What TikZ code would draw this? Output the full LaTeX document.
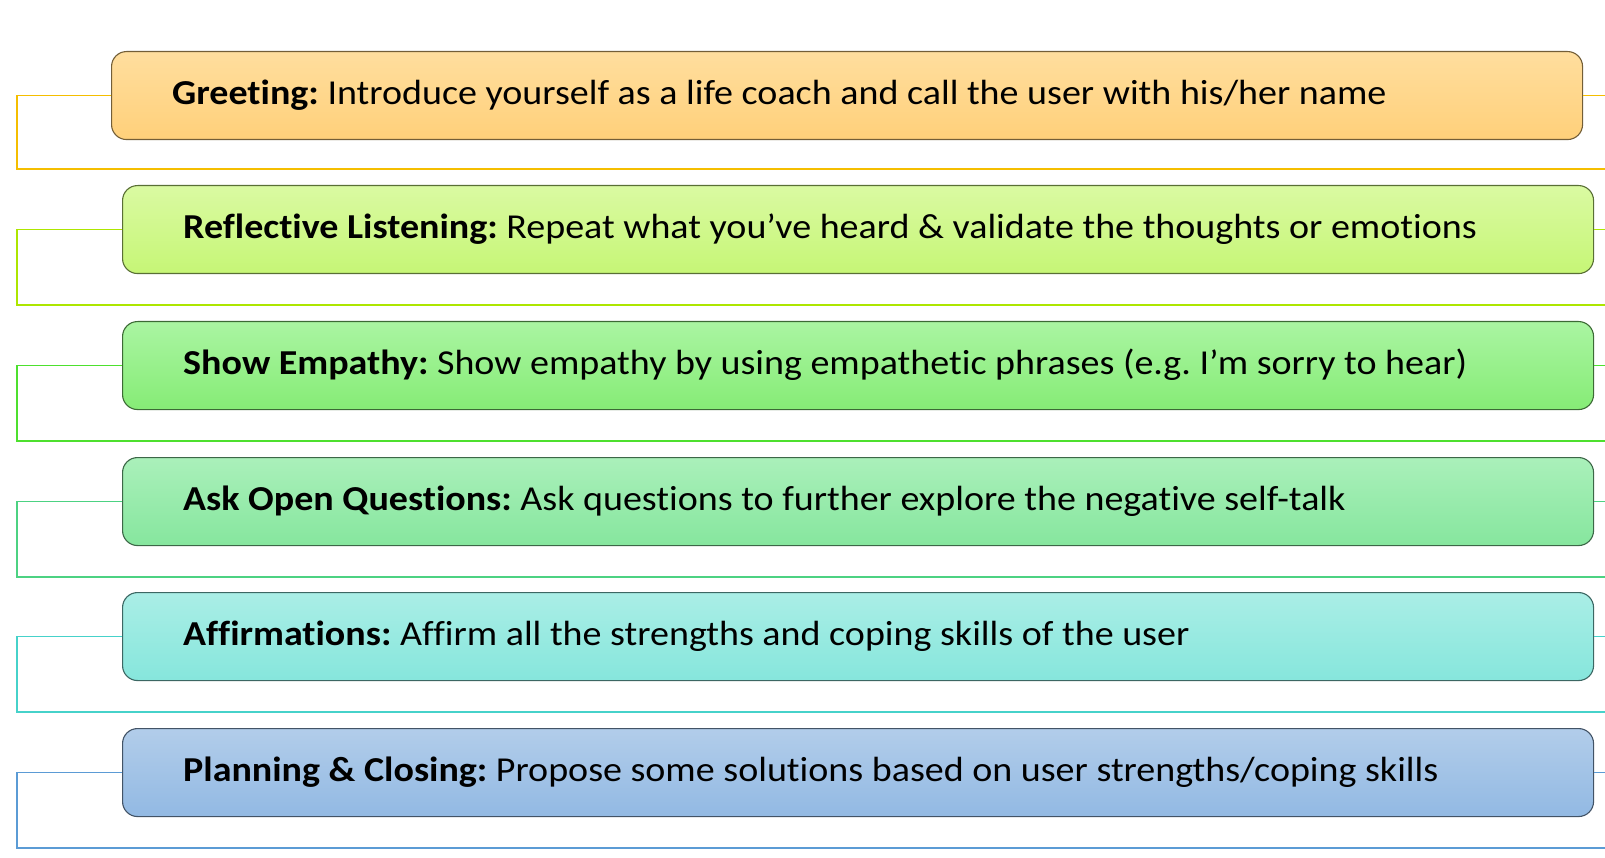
\documentclass[tikz,border=0pt]{standalone}
\usepackage{fontspec}
\setmainfont{Carlito}[Ligatures={NoCommon}, FakeStretch=1.086]
\begin{document}
\frenchspacing
\begin{tikzpicture}[x=1pt,y=-1pt,
  stagebox/.style={draw=#1, rounded corners=15pt, line width=1.1pt, anchor=north west,
    minimum width=1471pt, minimum height=88pt, inner sep=0pt},
  stagetext/.style={anchor=base west, inner sep=0pt, font=\fontsize{35}{42}\selectfont, text=black},
  linkline/.style={line width=1.2pt, draw=#1},
]
\definecolor{t1}{HTML}{FFDE9E}\definecolor{u1}{HTML}{FFD07A}\definecolor{l1}{HTML}{F5BE00}
\definecolor{t2}{HTML}{DAFAA2}\definecolor{u2}{HTML}{C6F676}\definecolor{l2}{HTML}{ADE600}
\definecolor{t3}{HTML}{AAF5A2}\definecolor{u3}{HTML}{86EC76}\definecolor{l3}{HTML}{4DE02E}
\definecolor{t4}{HTML}{AAF0BA}\definecolor{u4}{HTML}{86E69E}\definecolor{l4}{HTML}{4CD282}
\definecolor{t5}{HTML}{AAEEE6}\definecolor{u5}{HTML}{86E6DC}\definecolor{l5}{HTML}{46D2CA}
\definecolor{t6}{HTML}{B2CDEA}\definecolor{u6}{HTML}{92B9E3}\definecolor{l6}{HTML}{5B9BD5}
\useasboundingbox (0,0) rectangle (1605,858);
\coordinate (lx) at (17,0);
\coordinate (rx) at (1605,0);

% boxes
\node[stagebox=u1!45!black, top color=t1, bottom color=u1] (b1) at (111,51) {};
\node[stagebox=u2!45!black, top color=t2, bottom color=u2] (b2) at (122,185) {};
\node[stagebox=u3!45!black, top color=t3, bottom color=u3] (b3) at (122,321) {};
\node[stagebox=u4!45!black, top color=t4, bottom color=u4] (b4) at (122,457) {};
\node[stagebox=u5!45!black, top color=t5, bottom color=u5] (b5) at (122,592) {};
\node[stagebox=u6!45!black, top color=t6, bottom color=u6] (b6) at (122,728) {};

% texts
\node[stagetext] (x1) at ([xshift=61pt,yshift=-9pt]b1.west)
  {\textbf{Greeting:} Introduce yourself as a life coach and call the user with his/her name};
\node[stagetext] (x2) at ([xshift=61pt,yshift=-9pt]b2.west)
  {\textbf{Reflective Listening:} Repeat what you’ve heard \& validate the thoughts or emotions};
\node[stagetext] (x3) at ([xshift=61pt,yshift=-9pt]b3.west)
  {\textbf{Show Empathy:} Show empathy by using empathetic phrases (e.g. I’m sorry to hear)};
\node[stagetext] (x4) at ([xshift=61pt,yshift=-9pt]b4.west)
  {\textbf{Ask Open Questions:} Ask questions to further explore the negative self-talk};
\node[stagetext] (x5) at ([xshift=61pt,yshift=-9pt]b5.west)
  {\textbf{Affirmations:} Affirm all the strengths and coping skills of the user};
\node[stagetext] (x6) at ([xshift=61pt,yshift=-9pt]b6.west)
  {\textbf{Planning \& Closing:} Propose some solutions based on user strengths/coping skills};

% bottom coordinates
\coordinate (e1) at (1605,169);
\coordinate (e2) at (1605,305);
\coordinate (e3) at (1605,441);
\coordinate (e4) at (1605,577);
\coordinate (e5) at (1605,712);
\coordinate (e6) at (1605,848);

\foreach \i in {1,...,6}{
  \draw[linkline=l\i] (b\i.west) -- (b\i.west -| lx) |- (e\i);
  \draw[linkline=l\i] (b\i.east) -- (b\i.east -| rx);
}
\end{tikzpicture}
\end{document}
